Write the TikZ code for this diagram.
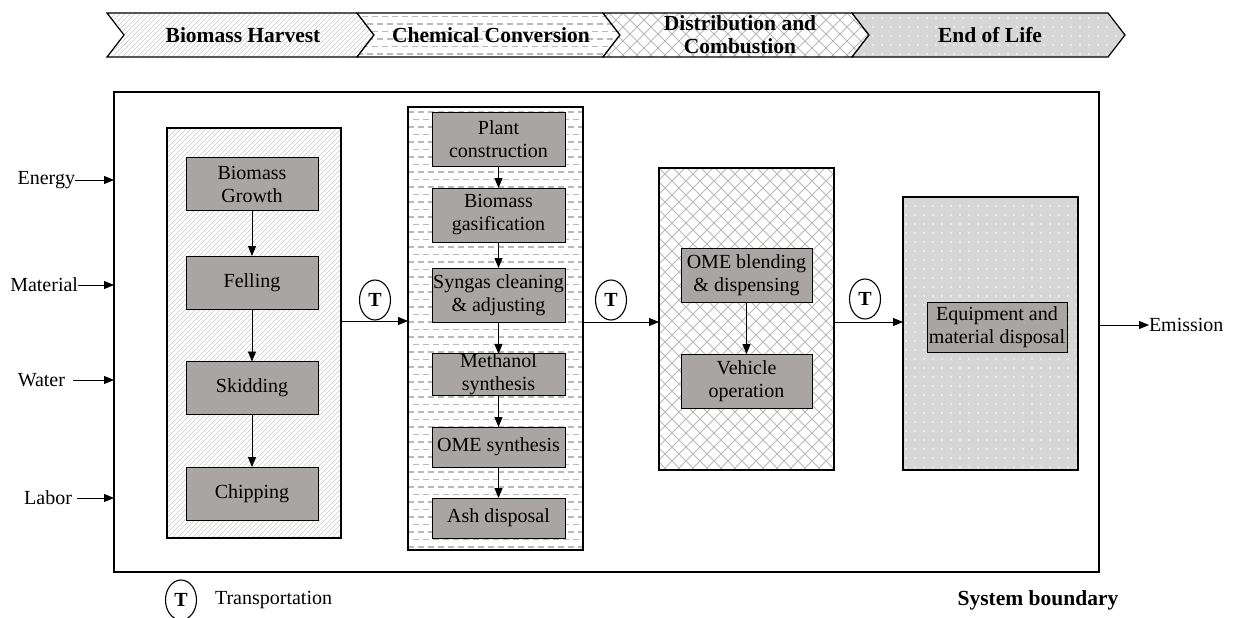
\documentclass[tikz,border=0pt]{standalone}
\usepackage{fontspec}
\setmainfont{Liberation Serif}
\usetikzlibrary{arrows.meta,shapes.geometric}
\definecolor{boxgray}{RGB}{169,165,165}
\definecolor{texgray}{RGB}{185,185,185}
\definecolor{hatchgray}{RGB}{200,200,200}
\begin{document}
\begin{tikzpicture}[x=1pt,y=-1pt,
  every node/.style={inner sep=0pt, outer sep=0pt},
  txt/.style={font=\fontsize{20}{23}\selectfont, align=center},
  bold/.style={font=\fontsize{21.5}{23}\selectfont\bfseries, align=center},
  procbox/.style={draw=black, line width=1pt, fill=boxgray, txt, minimum width=132pt, minimum height=53pt},
  stagebox/.style={draw=black, line width=1.3pt},
  arr/.style={-{Triangle[length=10pt,width=8pt]}, line width=0.9pt},
  tmark/.style={ellipse, draw, line width=1.1pt, minimum width=31pt, minimum height=40pt,
    font=\fontsize{20}{23}\selectfont\bfseries},
  hatchfill/.style={fill=white, path picture={
    \foreach \k in {0,...,200}
      \draw[hatchgray, line width=0.5pt]
        ([xshift=\k*5pt-500pt]path picture bounding box.south west) -- ++(45:900pt);
  }},
  dashfill/.style={fill=white, path picture={
    \foreach \k in {0,...,70} {
      \pgfmathsetmacro\ph{mod(\k,2)*5}
      \draw[texgray, line width=1.1pt, dash pattern=on 6pt off 4pt, dash phase=\ph pt]
        ([yshift=\k*7.5pt+3pt]path picture bounding box.south west) -- ++(300pt,0pt);
    }
  }},
  crossfill/.style={fill=white, path picture={
    \foreach \k in {0,...,80} {
      \draw[texgray, line width=0.8pt]
        ([xshift=\k*14pt-500pt]path picture bounding box.south west) -- ++(45:900pt);
      \draw[texgray, line width=0.8pt]
        ([xshift=\k*14pt-300pt]path picture bounding box.south west) -- ++(135:900pt);
    }
  }},
  dotfill/.style={fill=gray!32, path picture={
    \foreach \i in {0,...,31} \foreach \j in {0,...,31}
      \fill[white] ([xshift=\i*9pt+3pt, yshift=\j*9pt+3pt]path picture bounding box.south west) circle (0.9pt);
  }},
]
\useasboundingbox (0,0) rectangle (1239,618);

% ---- life-cycle phase banner ----
\path[hatchfill, draw=black, line width=1.2pt]
  (107,13) -- (357,13) -- (374,35) -- (357,57) -- (107,57) -- (124,35) -- cycle;
\path[dashfill, draw=black, line width=1.2pt]
  (357,13) -- (603,13) -- (620,35) -- (603,57) -- (357,57) -- (374,35) -- cycle;
\path[crossfill, draw=black, line width=1.2pt]
  (603,13) -- (852,13) -- (869,35) -- (852,57) -- (603,57) -- (620,35) -- cycle;
\path[dotfill, draw=black, line width=1.2pt]
  (852,13) -- (1108,13) -- (1125,35) -- (1108,57) -- (852,57) -- (869,35) -- cycle;
\node[bold] (ph1) at (243,35) {Biomass Harvest};
\node[bold] (ph2) at (491,35) {Chemical Conversion};
\node[bold] (ph3) at (740,35) {Distribution and\\Combustion};
\node[bold] (ph4) at (990,35) {End of Life};

% ---- system boundary ----
\node[draw=black, line width=1.4pt, minimum width=985pt, minimum height=480pt] (sb) at (606.5,332) {};

% ---- stage containers ----
\node[stagebox, hatchfill, minimum width=174pt, minimum height=410pt] (s1) at (254,333) {};
\node[stagebox, dashfill, minimum width=175pt, minimum height=443pt] (s2) at (495.5,328.5) {};
\node[stagebox, crossfill, minimum width=175pt, minimum height=302pt] (s3) at (746.5,319) {};
\node[stagebox, dotfill, minimum width=175pt, minimum height=273pt] (s4) at (990.5,333.5) {};

% ---- biomass harvest ----
\node[procbox] (grow) at (252,184) {Biomass\\Growth};
\node[procbox] (fell) at (252,282.5) {Felling};
\node[procbox] (skid) at (252,388) {Skidding};
\node[procbox] (chip) at (252,493.5) {Chipping};
\draw[arr] (grow) -- (fell);
\draw[arr] (fell) -- (skid);
\draw[arr] (skid) -- (chip);

% ---- chemical conversion ----
\node[procbox, minimum width=133pt, minimum height=54pt] (plant) at (498.5,139) {Plant\\construction};
\node[procbox, minimum width=133pt, minimum height=54pt] (gasi) at (498.5,215) {Biomass\\gasification};
\node[procbox, minimum width=133pt, minimum height=54pt] (syng) at (498.5,295) {Syngas cleaning\\\& adjusting};
\node[procbox, minimum width=133pt, minimum height=41pt] (meth) at (498.5,374.5) {Methanol\\synthesis};
\node[procbox, minimum width=133pt, minimum height=40pt] (omes) at (498.5,447) {OME synthesis};
\node[procbox, minimum width=133pt, minimum height=40pt] (ash) at (498.5,518) {Ash disposal};
\draw[arr] (plant) -- (gasi);
\draw[arr] (gasi) -- (syng);
\draw[arr] (syng) -- (meth);
\draw[arr] (meth) -- (omes);
\draw[arr] (omes) -- (ash);

% ---- distribution and combustion ----
\node[procbox, minimum width=131pt, minimum height=54pt] (blend) at (746.5,275) {OME blending\\\& dispensing};
\node[procbox, minimum width=131pt, minimum height=54pt] (vehi) at (746.5,381) {Vehicle\\operation};
\draw[arr] (blend) -- (vehi);

% ---- end of life ----
\node[procbox, minimum width=140pt, minimum height=50pt] (disp) at (997,327) {Equipment and\\material disposal};

% ---- transport links between stages ----
\coordinate (ya) at (0,321);
\coordinate (yb) at (0,322);
\draw[arr] (s1.east |- ya) -- (s2.west |- ya);
\draw[arr] (s2.east |- yb) -- (s3.west |- yb);
\draw[arr] (s3.east |- yb) -- (s4.west |- yb);
\node[tmark] (t1) at (375,300) {T};
\node[tmark] (t2) at (611,300) {T};
\node[tmark] (t3) at (865,299) {T};

% ---- inputs ----
\node[txt, anchor=east] (energy) at (75,180) {Energy};
\node[txt, anchor=east] (material) at (78,285) {Material};
\node[txt, anchor=east] (water) at (65,380) {Water};
\node[txt, anchor=east] (labor) at (72,498) {Labor};
\draw[arr] (energy.east) -- (energy.east -| sb.west);
\draw[arr] (material.east) -- (material.east -| sb.west);
\draw[arr] ([xshift=8pt]water.east) -- (water.east -| sb.west);
\draw[arr] ([xshift=5pt]labor.east) -- (labor.east -| sb.west);

% ---- output ----
\node[txt, anchor=west] (emis) at (1149,325) {Emission};
\draw[arr] (emis.west -| sb.east) -- (emis.west);

% ---- legend ----
\node[tmark] (tleg) at (181,600) {T};
\node[txt, anchor=west] (tlegtxt) at (215,600) {Transportation};
\node[bold] (sblabel) at (1038,600) {System boundary};
\end{tikzpicture}
\end{document}
